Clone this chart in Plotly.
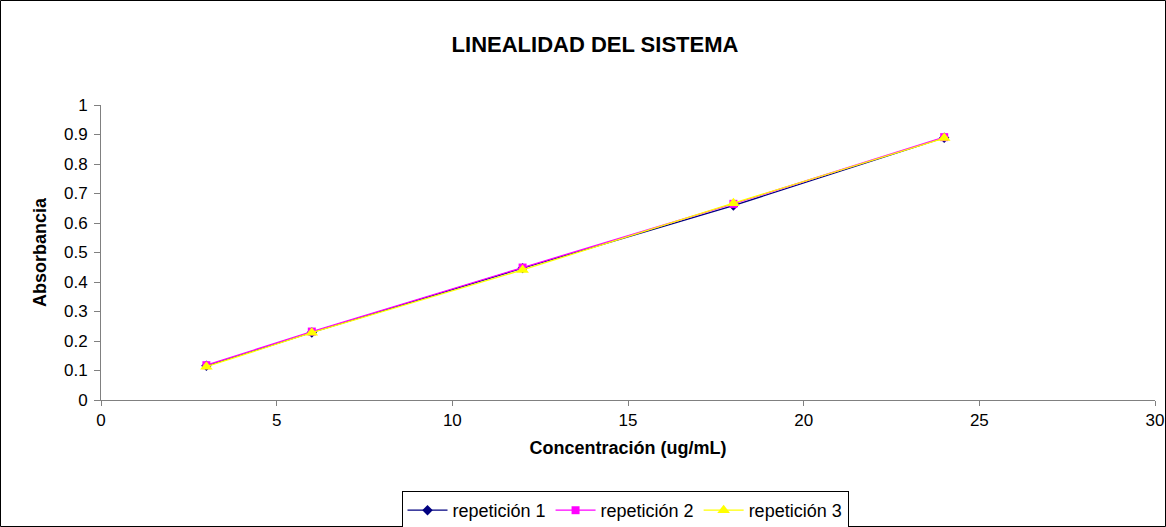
import plotly.graph_objects as go

conc = [3, 6, 12, 18, 24]
rep1 = [0.116, 0.229, 0.447, 0.659, 0.889]
rep2 = [0.118, 0.232, 0.449, 0.665, 0.891]
rep3 = [0.113, 0.228, 0.441, 0.667, 0.888]
names = ["repetición 1", "repetición 2", "repetición 3"]
colors = ["#000080", "#FF00FF", "#FFFF00"]
symbols = ["diamond", "square", "triangle-up"]
sizes = [8, 8, 11]

fig = go.Figure()
for ys, n, c, s, sz in zip([rep1, rep2, rep3], names, colors, symbols, sizes):
    fig.add_trace(go.Scatter(x=conc, y=ys, name=n, mode="lines+markers",
                             line=dict(color=c, width=1.3),
                             marker=dict(symbol=s, size=sz, color=c)))

fig.update_layout(
    width=1166, height=527, autosize=False,
    margin=dict(l=101, r=11, t=105, b=127, autoexpand=False),
    paper_bgcolor="white", plot_bgcolor="white",
    font=dict(family="Liberation Sans, Arial", size=17, color="black"),
    title=dict(text="<b>LINEALIDAD DEL SISTEMA</b>", x=595/1166, xanchor="center",
               y=1 - 44/527, yanchor="middle", font=dict(size=22)),
    xaxis=dict(range=[0, 30], tickvals=[0, 5, 10, 15, 20, 25, 30], showgrid=False,
               zeroline=False, showline=True, linecolor="#808080", linewidth=1,
               ticks="outside", tickcolor="#808080", ticklen=5, automargin=False,
               tickfont=dict(size=17),
               title=dict(text="<b>Concentración (ug/mL)</b>", font=dict(size=18), standoff=11)),
    yaxis=dict(range=[0, 1], dtick=0.1, showgrid=False, zeroline=False, showline=True,
               linecolor="#808080", linewidth=1, ticks="outside", tickcolor="#808080",
               ticklen=6, automargin=False, ticklabelstandoff=3, tickfont=dict(size=17),
               title=dict(text="<b>Absorbancia</b>", font=dict(size=18), standoff=12)),
    legend=dict(orientation="h", x=(625 - 101)/1054, xanchor="center", y=-91/295, yanchor="top",
                bordercolor="black", borderwidth=1, font=dict(size=18),
                itemwidth=40, tracegroupgap=0),
    showlegend=True,
)
fig.add_shape(type="rect", xref="paper", yref="paper", x0=-100.5/1054, x1=1 + 10.5/1054,
              y0=-126.5/295, y1=1 + 104.5/295, line=dict(color="black", width=1))
fig.write_html("out.html", config={"displayModeBar": False},
               post_script="document.body.style.margin='0';document.body.style.overflow='hidden';")
